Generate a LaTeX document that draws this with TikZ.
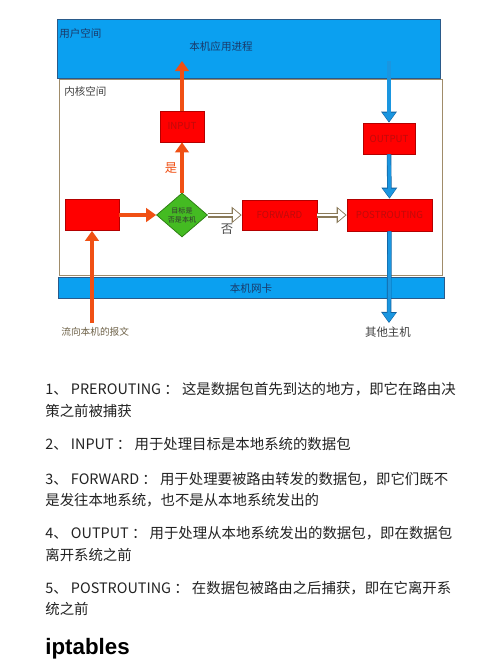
\documentclass[tikz,border=0pt]{standalone}
\usepackage{fontspec}
\setmainfont{Noto Sans CJK SC}
\newfontfamily\headfont{Liberation Sans}
\usetikzlibrary{shapes.geometric, arrows.meta}
\definecolor{UserBlue}{HTML}{0BA0F0}
\definecolor{UserEdge}{HTML}{2A5A8A}
\definecolor{UserText}{HTML}{1A3A6A}
\definecolor{KernelEdge}{HTML}{A08C6A}
\definecolor{ChainRed}{HTML}{FF0000}
\definecolor{ChainEdge}{HTML}{B40000}
\definecolor{ChainText}{HTML}{C00A0A}
\definecolor{FlowOrange}{HTML}{F05014}
\definecolor{FlowBlue}{HTML}{1A96E0}
\definecolor{FlowBlueEdge}{HTML}{10609E}
\definecolor{DecideGreen}{HTML}{44BB22}
\definecolor{DecideEdge}{HTML}{2A7A10}
\definecolor{HollowEdge}{HTML}{8A7A5A}
\definecolor{NoteText}{HTML}{222222}

\begin{document}
\begin{tikzpicture}[x=0.02cm, y=-0.02cm,
    space/.style={draw=UserEdge, fill=UserBlue, inner sep=0pt},
    chain/.style={draw=ChainEdge, fill=ChainRed, inner sep=0pt, minimum height=0.62cm, text=ChainText, font=\fontsize{5.5}{6}\selectfont},
    small/.style={inner sep=0pt, font=\fontsize{6}{7}\selectfont},
    orangearrow/.style={draw=FlowOrange, line width=0.08cm, -{Triangle[length=0.2cm, width=0.27cm]}},
    bluearrow/.style={draw=FlowBlueEdge, line width=0.09cm, -{Triangle[length=0.22cm, width=0.3cm]},
        postaction={draw=FlowBlue, line width=0.065cm, -{Triangle[length=0.18cm, width=0.25cm]}, shorten >=0.02cm}},
    hollowarrow/.style={draw=HollowEdge, line width=0.1cm, -{Triangle[length=0.2cm, width=0.32cm]},
        postaction={draw=white, line width=0.055cm, -{Triangle[length=0.14cm, width=0.23cm]}, shorten >=0.03cm}},
    note/.style={anchor=west, inner sep=0pt, text=NoteText, font=\fontsize{8.2}{10}\selectfont}
  ]
  \useasboundingbox[fill=white] (0,0) rectangle (500,664);

  % Spaces (top to bottom)
  \node[space, minimum width=7.66cm, minimum height=1.18cm] (user) at (248.5,48.5) {};
  \node[draw=KernelEdge, fill=white, inner sep=0pt, minimum width=7.66cm, minimum height=3.92cm] (kernel) at (250.5,177) {};
  \node[space, minimum width=7.72cm, minimum height=0.42cm] (nic) at (251,287.5) {};
  \node[small, anchor=west, text=UserText] (userlabel) at (59,33) {用户空间};
  \node[small, text=UserText] (app) at (221,46) {本机应用进程};
  \node[small, anchor=west, text=black!75] (kernellabel) at (64,91) {内核空间};
  \node[small, text=UserText] (niclabel) at (251,288) {本机网卡};

  % Chains
  \node[chain, minimum width=1.08cm] (pre) at (92,215) {};
  \node[chain, minimum width=0.88cm] (input) at (182,126.5) {INPUT};
  \node[chain, minimum width=1.04cm] (output) at (389,138.5) {OUTPUT};
  \node[chain, minimum width=1.5cm, minimum height=0.6cm] (forward) at (279.5,215) {FORWARD};
  \node[chain, minimum width=1.7cm, minimum height=0.64cm] (post) at (389.5,215) {POSTROUTING};
  \node[diamond, draw=DecideEdge, fill=DecideGreen, inner sep=0pt, minimum width=1.02cm, minimum height=0.88cm,
        align=center, text=black!80, font=\fontsize{4}{5}\selectfont] (route) at (182,215) {目标是\\否是本机};

  % Free ends
  \coordinate (appin) at (182,61);
  \coordinate (appout) at (389,61);
  \coordinate (inflow) at (92,323);
  \coordinate (outflow) at (389,323);

  % Arrows
  \draw[orangearrow] (inflow) -- (pre.south);
  \draw[orangearrow] (pre.east) -- (route.west);
  \draw[orangearrow] (route.north) -- (input.south);
  \draw[orangearrow] (input.north) -- (appin);
  \draw[bluearrow] (appout) -- (output.north);
  \draw[bluearrow] (output.south) -- (post.north);
  \draw[bluearrow] (post.south) -- (outflow);
  \draw[hollowarrow] (route.east) -- (forward.west);
  \draw[hollowarrow] (forward.east) -- (post.west);

  % Arrow labels
  \node[inner sep=0pt, text=FlowOrange, font=\fontsize{7}{8}\selectfont] (yes) at (171,168) {是};
  \node[inner sep=0pt, text=black!70, font=\fontsize{7}{8}\selectfont] (no) at (227,229) {否};
  \node[small, anchor=west, text=HollowEdge!80!black, font=\fontsize{5.5}{6}\selectfont] (inlabel) at (61,332) {流向本机的报文};
  \node[small, text=black!75, font=\fontsize{6.5}{7}\selectfont] (outlabel) at (388,332) {其他主机};

  % Chain notes
  \node[note] (n1a) at (45,389) {1、 PREROUTING ： 这是数据包首先到达的地方，即它在路由决};
  \node[note] (n1b) at (45,411) {策之前被捕获};
  \node[note] (n2) at (45,444) {2、 INPUT ： 用于处理目标是本地系统的数据包};
  \node[note] (n3a) at (45,479) {3、 FORWARD ： 用于处理要被路由转发的数据包，即它们既不};
  \node[note] (n3b) at (45,500) {是发往本地系统，也不是从本地系统发出的};
  \node[note] (n4a) at (45,533) {4、 OUTPUT ： 用于处理从本地系统发出的数据包，即在数据包};
  \node[note] (n4b) at (45,555) {离开系统之前};
  \node[note] (n5a) at (45,588) {5、 POSTROUTING ： 在数据包被路由之后捕获，即在它离开系};
  \node[note] (n5b) at (45,609) {统之前};
  \node[anchor=west, inner sep=0pt, text=black, font=\headfont\bfseries\fontsize{12.7}{14}\selectfont] (title) at (45,649) {iptables};
\end{tikzpicture}
\end{document}
